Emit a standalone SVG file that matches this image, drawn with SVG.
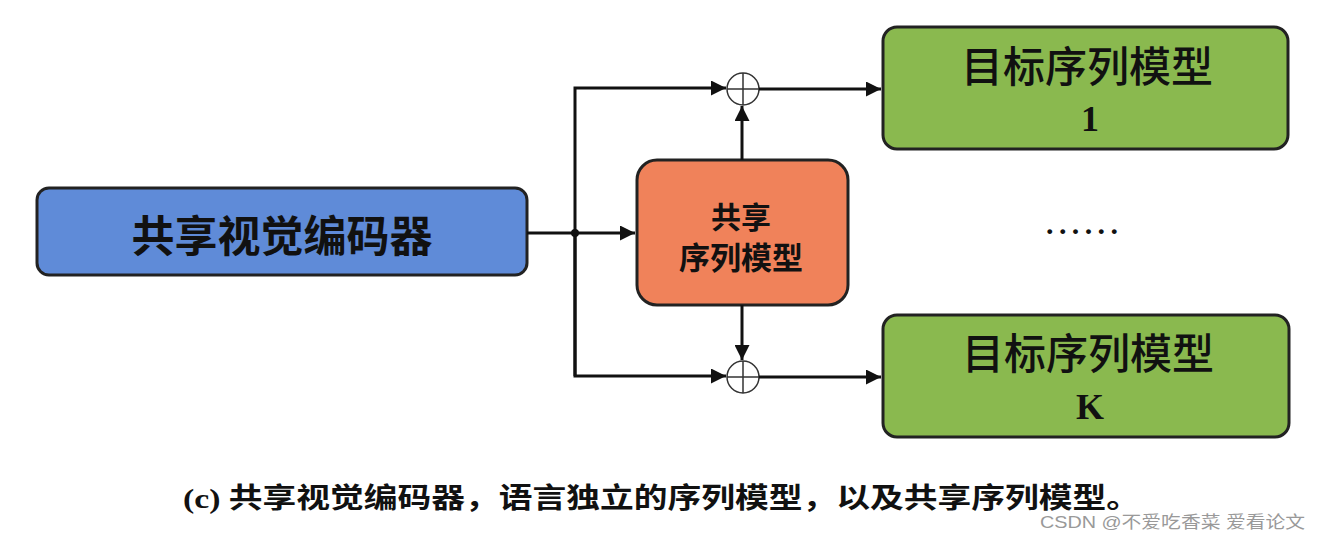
<svg xmlns="http://www.w3.org/2000/svg" width="1318" height="539" viewBox="0 0 1318 539">
<style>
.box{stroke:#222;stroke-width:3}
.cn{font-family:"Noto Sans CJK SC","Liberation Sans",sans-serif;fill:#111;text-anchor:middle;font-weight:bold}
.cnm{font-family:"Noto Sans CJK SC","Liberation Sans",sans-serif;fill:#111;text-anchor:middle;font-weight:500}
.num{font-family:"Liberation Serif","Noto Sans CJK SC",serif;font-weight:bold;fill:#111;text-anchor:middle}
.ln{stroke:#111;stroke-width:3;fill:none}
.cap{font-family:"Liberation Serif","Noto Sans CJK SC",serif;font-weight:bold;fill:#111}
</style>
<defs>
<marker id="ah" viewBox="0 0 10 10" refX="10" refY="5" markerWidth="5" markerHeight="5" orient="auto" markerUnits="strokeWidth">
<path d="M0,0 L10,5 L0,10 z" fill="#111"/>
</marker>
</defs>
<rect width="1318" height="539" fill="#fff"/>
<g id="encoder">
<rect class="box" x="37" y="188" width="490" height="87" rx="12" fill="#5f8bd8"/>
<text class="cn" x="282" y="252" font-size="43">共享视觉编码器</text>
</g>
<g id="shared-seq">
<rect class="box" x="637" y="160" width="211" height="145" rx="20" fill="#f0825a"/>
<text class="cn" x="741" y="228" font-size="30">共享</text>
<text class="cn" x="741" y="269" font-size="31">序列模型</text>
</g>
<g id="target1">
<rect class="box" x="883" y="27" width="405" height="122" rx="14" fill="#8ab94f"/>
<text class="cnm" x="1087" y="82" font-size="42">目标序列模型</text>
<text class="num" x="1090" y="131" font-size="36">1</text>
</g>
<g id="targetK">
<rect class="box" x="883" y="315" width="406" height="122" rx="14" fill="#8ab94f"/>
<text class="cnm" x="1088" y="369" font-size="42">目标序列模型</text>
<text class="num" x="1090" y="419" font-size="36">K</text>
</g>
<g id="sum1">
<circle cx="743" cy="89" r="16" fill="#fff" stroke="#333" stroke-width="1.5"/>
<path d="M727,89 H759 M743,73 V105" stroke="#333" stroke-width="1.5"/>
</g>
<g id="sumK">
<circle cx="743" cy="377" r="16" fill="#fff" stroke="#333" stroke-width="1.5"/>
<path d="M727,377 H759 M743,361 V393" stroke="#333" stroke-width="1.5"/>
</g>
<g id="connectors">
<path class="ln" d="M527,233 H575"/>
<path class="ln" d="M575,233 H635" marker-end="url(#ah)"/>
<path class="ln" d="M575,376 V88 H726" marker-end="url(#ah)"/>
<path class="ln" d="M575,233 V376 H726" marker-end="url(#ah)"/>
<path class="ln" d="M742,160 V106" marker-end="url(#ah)"/>
<path class="ln" d="M742,305 V360" marker-end="url(#ah)"/>
<path class="ln" d="M759,89 H881" marker-end="url(#ah)"/>
<path class="ln" d="M759,377 H881" marker-end="url(#ah)"/>
<circle cx="575" cy="233" r="4" fill="#111"/>
</g>
<text class="num" x="1082" y="234" font-size="30" textLength="72" lengthAdjust="spacing">......</text>
<text class="cap" x="183" y="508" font-size="28" textLength="957" lengthAdjust="spacingAndGlyphs">(c) <tspan font-family="Noto Sans CJK SC, sans-serif">共享视觉编码器，语言独立的序列模型，以及共享序列模型。</tspan></text>
<text x="1040" y="528" font-size="17" fill="#999" font-family="Liberation Sans, Noto Sans CJK SC, sans-serif" textLength="265" lengthAdjust="spacingAndGlyphs">CSDN @不爱吃香菜 爱看论文</text>
</svg>
